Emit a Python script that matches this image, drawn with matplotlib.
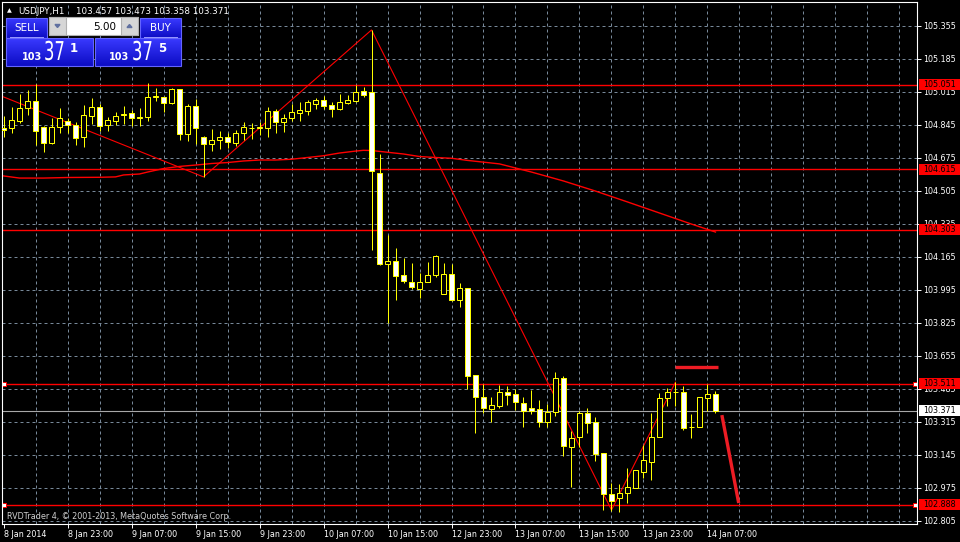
import numpy as np
import matplotlib
matplotlib.use('Agg')
import matplotlib.pyplot as plt
from matplotlib.patches import Rectangle, Polygon, PathPatch
from matplotlib.colors import LinearSegmentedColormap
from matplotlib.textpath import TextPath
from matplotlib.font_manager import FontProperties
from matplotlib.transforms import Affine2D

# USDJPY H1 candles, one per hour, left to right
opens = [104.828, 104.828, 104.864, 104.931, 104.967, 104.833, 104.751, 104.833, 104.864, 104.843,
         104.782, 104.890, 104.936, 104.843, 104.864, 104.895, 104.905, 104.885, 104.885, 104.988,
         104.988, 104.957, 105.029, 104.797, 104.941, 104.782, 104.746, 104.766, 104.782, 104.751,
         104.802, 104.828, 104.828, 104.828, 104.916, 104.859, 104.880, 104.905, 104.916, 104.952,
         104.972, 104.946, 104.926, 104.957, 104.967, 105.019, 105.013, 104.596, 104.127, 104.143,
         104.071, 104.035, 103.999, 104.035, 104.071, 103.973, 104.076, 103.942, 104.004, 103.555,
         103.442, 103.380, 103.396, 103.468, 103.458, 103.411, 103.385, 103.380, 103.313, 103.365,
         103.540, 103.185, 103.236, 103.360, 103.313, 103.154, 102.942, 102.922, 102.948, 102.973,
         103.056, 103.107, 103.236, 103.437, 103.468, 103.468, 103.288, 103.288, 103.437, 103.457]
highs = [104.890, 104.936, 105.003, 105.024, 105.055, 104.838, 104.880, 104.931, 104.880, 104.859,
         104.946, 104.983, 104.952, 104.885, 104.910, 104.941, 104.921, 104.931, 105.060, 105.034,
         104.988, 105.034, 105.029, 104.952, 104.977, 104.787, 104.823, 104.812, 104.802, 104.818,
         104.859, 104.854, 104.859, 104.936, 104.926, 104.900, 104.952, 104.962, 104.972, 104.983,
         104.993, 104.962, 105.003, 104.998, 105.050, 105.039, 105.333, 104.694, 104.277, 104.210,
         104.158, 104.132, 104.081, 104.138, 104.174, 104.132, 104.127, 104.029, 104.004, 103.555,
         103.509, 103.442, 103.504, 103.499, 103.483, 103.442, 103.478, 103.427, 103.406, 103.571,
         103.550, 103.267, 103.370, 103.385, 103.339, 103.154, 102.999, 102.994, 103.076, 103.066,
         103.195, 103.360, 103.463, 103.488, 103.519, 103.499, 103.355, 103.442, 103.509, 103.473]
lows = [104.782, 104.802, 104.854, 104.895, 104.740, 104.704, 104.746, 104.802, 104.802, 104.740,
        104.730, 104.849, 104.813, 104.813, 104.843, 104.849, 104.838, 104.838, 104.864, 104.967,
        104.910, 104.952, 104.766, 104.761, 104.746, 104.576, 104.709, 104.720, 104.725, 104.735,
        104.766, 104.771, 104.792, 104.782, 104.802, 104.807, 104.864, 104.864, 104.895, 104.926,
        104.926, 104.885, 104.921, 104.952, 104.962, 104.988, 104.199, 104.122, 103.823, 103.942,
        104.029, 103.999, 103.952, 104.035, 104.060, 103.973, 103.937, 103.906, 103.483, 103.257,
        103.360, 103.313, 103.385, 103.401, 103.375, 103.288, 103.355, 103.288, 103.288, 103.344,
        103.138, 102.978, 103.185, 103.257, 103.112, 102.860, 102.855, 102.850, 102.896, 102.973,
        103.025, 103.014, 103.236, 103.396, 103.396, 103.272, 103.231, 103.288, 103.370, 103.358]
closes = [104.818, 104.869, 104.931, 104.967, 104.813, 104.751, 104.833, 104.880, 104.843, 104.776,
          104.895, 104.936, 104.838, 104.869, 104.890, 104.900, 104.880, 104.882, 104.988, 104.993,
          104.957, 105.029, 104.797, 104.941, 104.828, 104.746, 104.766, 104.782, 104.756, 104.802,
          104.833, 104.826, 104.833, 104.916, 104.859, 104.880, 104.910, 104.921, 104.962, 104.972,
          104.941, 104.926, 104.962, 104.972, 105.013, 104.998, 104.606, 104.127, 104.143, 104.065,
          104.040, 104.009, 104.035, 104.071, 104.169, 104.076, 103.942, 104.004, 103.550, 103.442,
          103.385, 103.401, 103.468, 103.452, 103.416, 103.370, 103.370, 103.313, 103.365, 103.540,
          103.190, 103.231, 103.360, 103.308, 103.148, 102.942, 102.906, 102.948, 102.978, 103.066,
          103.118, 103.236, 103.437, 103.468, 103.466, 103.282, 103.286, 103.442, 103.458, 103.371]

# moving average (at some bars)
ma_bars = [0, 2, 5, 8, 12, 14, 15, 17, 18, 20, 22, 24, 26, 28, 30, 32, 34, 36, 38, 40,
           42, 44, 45, 46, 48, 50, 52, 54, 56, 58, 62, 66, 70, 74, 78, 82, 86, 89]
ma_values = [104.581, 104.570, 104.570, 104.573, 104.574, 104.576, 104.586, 104.591, 104.601, 104.619,
             104.630, 104.637, 104.645, 104.650, 104.658, 104.663, 104.663, 104.667, 104.676, 104.685,
             104.699, 104.709, 104.713, 104.712, 104.703, 104.694, 104.681, 104.676, 104.672, 104.661,
             104.643, 104.601, 104.555, 104.503, 104.447, 104.390, 104.333, 104.292]

# zigzag
zz_bars = [0, 25, 46, 76, 84]
zz_prices = [104.988, 104.576, 105.333, 102.860, 103.519]

# horizontal levels
thin_levels = [105.051, 104.615, 104.303]
handle_levels = [103.511, 102.888]
bid_price = 103.371

# hand drawn marks
target_bars = [84, 89.3]
target_prices = [103.597, 103.597]
proj_bars = [89.8, 91.9]
proj_prices = [103.349, 102.896]

price_ticks = [102.805, 102.975, 103.145, 103.315, 103.485, 103.655, 103.825, 103.995,
               104.165, 104.335, 104.505, 104.675, 104.845, 105.015, 105.185, 105.355]
time_ticks = [0, 8, 16, 24, 32, 40, 48, 56, 64, 72, 80, 88]
time_labels = ['8 Jan 2014', '8 Jan 23:00', '9 Jan 07:00', '9 Jan 15:00', '9 Jan 23:00',
               '10 Jan 07:00', '10 Jan 15:00', '12 Jan 23:00', '13 Jan 07:00',
               '13 Jan 15:00', '13 Jan 23:00', '14 Jan 07:00']

GRID = '#778899'
PX = 0.72  # one pixel in points

fig = plt.figure(figsize=(9.6, 5.42), dpi=100, facecolor='black')
ax = fig.add_axes([2 / 960, 18 / 542, 915 / 960, 522 / 542], facecolor='black')
ax.set_xlim(-0.19, 114.19)
ax.set_ylim(102.788, 105.477)

# grid
for p in price_ticks:
    ax.axhline(p, color=GRID, lw=PX, ls=(0, (3, 3)), zorder=0)
for b in range(4, 115, 4):
    ax.axvline(b, color=GRID, lw=PX, ls=(0, (3, 3)), zorder=0)

# levels
for p in thin_levels:
    ax.axhline(p, color='#ff0000', lw=1.0, zorder=1)
for p in handle_levels:
    ax.plot([0.002, 0.9975], [p, p], transform=ax.get_yaxis_transform(), color='#ff0000', lw=1.0,
            marker='s', ms=3.2, mfc='white', mec='#ff0000', mew=0.7, zorder=1)
ax.axhline(bid_price, color='#a8a8a8', lw=0.8, zorder=1)

ax.plot(ma_bars, ma_values, color='#ff0000', lw=1.0, zorder=2)
ax.plot(zz_bars, zz_prices, color='#ff0000', lw=0.8, zorder=2)

# candles
bars = np.arange(len(opens))
o = np.array(opens)
c = np.array(closes)
ax.vlines(bars, lows, highs, color='#ffff00', lw=PX, zorder=3)
fills = ['black' if cc > oo else 'white' for oo, cc in zip(o, c)]
heights = np.maximum(np.abs(c - o), 0.001)
ax.bar(bars, heights, bottom=np.minimum(o, c), width=0.55, color=fills,
       edgecolor='#ffff00', linewidth=PX, zorder=4)

ax.plot(target_bars, target_prices, color='#ee1c24', lw=2.4, solid_capstyle='butt', zorder=5)
ax.plot(proj_bars, proj_prices, color='#ee1c24', lw=2.4, solid_capstyle='butt', zorder=5)

# axes
for s in ax.spines.values():
    s.set_color('white')
    s.set_linewidth(0.8)
ax.yaxis.tick_right()
ax.set_yticks(price_ticks)
ax.set_yticklabels(['%.3f' % p for p in price_ticks])
ax.set_xticks(time_ticks)
ax.set_xticklabels(time_labels)
ax.tick_params(colors='white', labelsize=5.8, length=3, width=0.7, pad=1.2)
for lab in ax.get_xticklabels():
    lab.set_ha('left')

# price labels on the right
yt = ax.get_yaxis_transform()
for p in thin_levels + handle_levels:
    ax.add_patch(Rectangle((1.0022, p - 0.028), 0.046, 0.056, transform=yt, facecolor='#ff0000',
                           edgecolor='none', clip_on=False, zorder=10))
    ax.text(1.0066, p, '%.3f' % p, transform=yt, color='black', fontsize=5.8, va='center',
            ha='left', clip_on=False, zorder=11)
ax.add_patch(Rectangle((1.0022, bid_price - 0.028), 0.046, 0.056, transform=yt, facecolor='white',
                       edgecolor='none', clip_on=False, zorder=10))
ax.text(1.0066, bid_price, '%.3f' % bid_price, transform=yt, color='black', fontsize=5.8,
        va='center', ha='left', clip_on=False, zorder=11)

ax.text(0.006, 0.0096, 'RVDTrader 4, \u00a9 2001-2013, MetaQuotes Software Corp.', transform=ax.transAxes,
        color='#d0d0d0', fontsize=5.8, va='baseline', ha='left', zorder=6)

# one-click trading panel (pixel layout)
ui = fig.add_axes([0, 0, 1, 1], zorder=5)
ui.set_xlim(0, 960)
ui.set_ylim(542, 0)
ui.axis('off')

blue = LinearSegmentedColormap.from_list('mtblue', ['#3a3aff', '#0c0cc4'])
grad = np.linspace(0, 1, 64).reshape(-1, 1)


def blue_box(x0, y0, x1, y1):
    ui.imshow(grad, cmap=blue, extent=(x0, x1, y1, y0), aspect='auto', interpolation='bilinear', zorder=1)
    ui.add_patch(Rectangle((x0, y0), x1 - x0, y1 - y0, fill=False, edgecolor='#6464ff', lw=0.8, zorder=2))


def big_digits(x, y, s):
    # tall, narrow price digits
    tp = TextPath((0, 0), s, size=26, prop=FontProperties(family='DejaVu Sans'))
    tr = Affine2D().scale(0.63, -1.0).translate(x, y) + ui.transData
    ui.add_patch(PathPatch(tp, transform=tr, facecolor='white', edgecolor='none', zorder=4))


blue_box(6, 18, 47, 38)
blue_box(140, 18, 181, 38)
blue_box(6, 38, 93, 66)
blue_box(95, 38, 181, 66)
ui.plot([10, 43], [37, 37], color='#9a9aff', lw=0.7, zorder=3)
ui.plot([144, 177], [37, 37], color='#9a9aff', lw=0.7, zorder=3)

ui.add_patch(Rectangle((49, 17), 89, 18, facecolor='white', edgecolor='#b0b0b0', lw=0.8, zorder=1))
ui.add_patch(Rectangle((49, 17), 17, 18, facecolor='#d6d6d6', edgecolor='#b0b0b0', lw=0.8, zorder=2))
ui.add_patch(Rectangle((121, 17), 17, 18, facecolor='#d6d6d6', edgecolor='#b0b0b0', lw=0.8, zorder=2))
ui.add_patch(Polygon([(55, 24.5), (60, 24.5), (57.5, 27.5)], color='#6070a0', zorder=3))
ui.add_patch(Polygon([(127, 27.5), (132, 27.5), (129.5, 24.5)], color='#6070a0', zorder=3))

ui.text(27, 28, 'SELL', color='white', fontsize=7.5, ha='center', va='center', zorder=4)
ui.text(160, 28, 'BUY', color='white', fontsize=7.5, ha='center', va='center', zorder=4)
ui.text(116, 26.5, '5.00', color='black', fontsize=7.5, ha='right', va='center', zorder=4)

ui.text(22, 59.5, '103', color='white', fontsize=7, fontweight='bold', va='baseline', zorder=4)
big_digits(44, 60, '37')
ui.text(70, 52, '1', color='white', fontsize=8.5, fontweight='bold', va='baseline', zorder=4)
ui.text(109, 59.5, '103', color='white', fontsize=7, fontweight='bold', va='baseline', zorder=4)
big_digits(132, 60, '37')
ui.text(158, 52, '5', color='white', fontsize=8.5, fontweight='bold', va='baseline', zorder=4)

ui.text(7, 11, '\u25b2', color='white', fontsize=4.5, va='center', zorder=4)
ui.text(18, 11, 'USDJPY,H1', color='white', fontsize=6.3, va='center', zorder=4)
ui.text(76, 11, '103.457 103.473 103.358 103.371', color='white', fontsize=6.3, va='center', zorder=4)

fig.savefig('out.png', dpi=100, facecolor='black')
